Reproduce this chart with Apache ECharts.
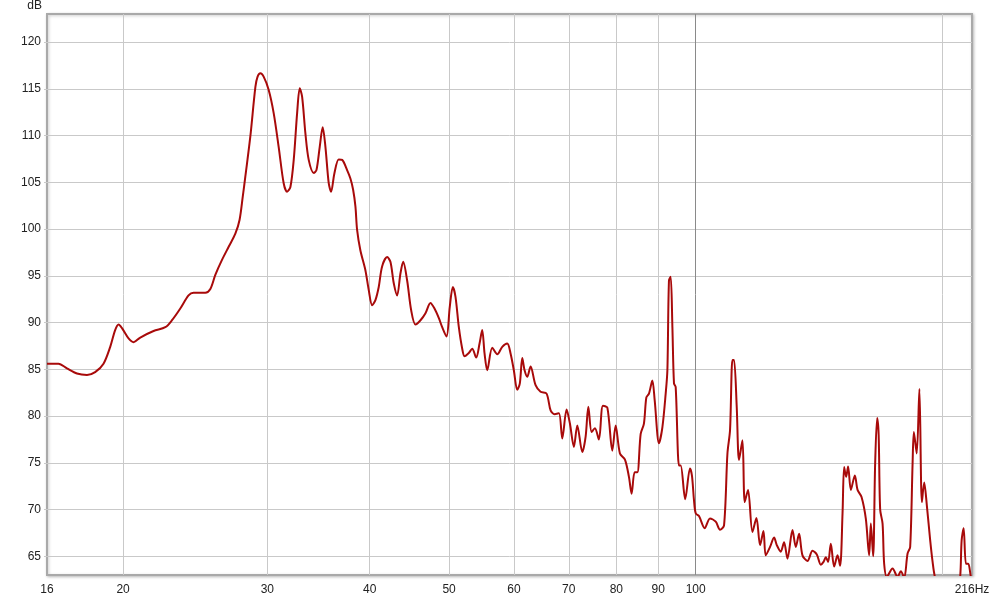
<!DOCTYPE html>
<html>
<head>
<meta charset="utf-8">
<script src="https://cdn.jsdelivr.net/npm/echarts@6/dist/echarts.min.js"></script>
<style>
  html, body { margin: 0; padding: 0; background: #ffffff; }
  #chart { width: 993px; height: 596px; }
</style>
</head>
<body>
<div id="chart"></div>
<script>
// Frequency axis range (Hz) and tick labels
const freqMin = 16.15;
const freqMax = 217.4;
const freqGridHz = [20, 30, 40, 50, 60, 70, 80, 90, 100, 200];
const freqLabelHz = [16.15, 20, 30, 40, 50, 60, 70, 80, 90, 100, 217.4];
const dbMin = 63;
const dbMax = 123;
const dbTicks = [65, 70, 75, 80, 85, 90, 95, 100, 105, 110, 115, 120];

// Measured response: frequency (Hz) and level (dB)
const freqHz = [
  16.15, 16.68, 17.08, 17.57, 18.07, 18.49, 18.93, 19.29, 19.56, 19.75,
  19.94, 20.31, 20.60, 20.99, 21.79, 22.52, 22.95, 23.49, 24.04, 24.38,
  25.20, 25.56, 25.92, 26.41, 26.91, 27.42, 27.75, 28.00, 28.20, 28.60,
  29.01, 29.19, 29.42, 29.69, 30.11, 30.54, 30.97, 31.41, 31.71, 32.01,
  32.31, 32.62, 32.86, 33.08, 33.39, 33.70, 34.18, 34.44, 34.76, 35.05,
  35.32, 35.65, 35.89, 36.22, 36.66, 37.02, 37.54, 37.89, 38.18, 38.43,
  38.61, 38.97, 39.52, 39.89, 40.28, 40.65, 41.03, 41.42, 42.01, 42.40,
  42.80, 43.21, 43.61, 43.95, 44.44, 44.95, 45.49, 46.14, 46.79, 47.45,
  47.99, 48.57, 49.04, 49.64, 50.10, 50.53, 50.91, 51.39, 51.88, 52.22,
  52.85, 53.36, 53.96, 54.47, 54.88, 55.24, 55.66, 56.45, 57.25, 58.06,
  58.88, 59.43, 59.98, 60.56, 61.00, 61.42, 61.82, 62.29, 62.87, 63.76,
  64.66, 65.76, 66.51, 67.26, 68.08, 68.73, 69.57, 70.22, 71.01, 71.69,
  72.71, 73.39, 73.95, 74.64, 75.33, 76.18, 77.05, 78.01, 79.11, 79.85,
  80.82, 81.97, 82.89, 83.52, 84.23, 84.87, 85.67, 86.46, 87.05, 87.69,
  88.53, 89.11, 90.19, 91.06, 91.91, 92.35, 92.76, 93.21, 93.66, 94.08,
  94.53, 95.41, 95.87, 97.09, 98.41, 98.96, 99.52, 100.0, 100.93, 102.56,
  104.10, 105.79, 107.07, 108.29, 109.33, 110.13, 110.88, 111.37, 112.22, 112.95,
  114.04, 114.78, 115.85, 117.29, 118.62, 119.83, 120.98, 121.76, 123.24, 124.64,
  125.59, 127.01, 128.19, 129.43, 131.26, 132.48, 133.72, 135.00, 136.92, 138.86,
  140.55, 142.14, 143.22, 144.15, 145.09, 146.19, 147.56, 148.97, 150.06, 151.09,
  151.77, 152.62, 153.48, 154.66, 156.40, 157.60, 159.38, 161.32, 162.82, 163.60,
  164.66, 165.59, 166.52, 167.23, 167.94, 169.08, 169.84, 171.13, 173.90, 176.36,
  178.00, 179.67, 181.39, 182.72, 183.96, 184.63, 186.10, 187.52, 188.84, 190.07,
  191.51, 193.30, 194.61, 195.88, 199.20, 207.80, 210.15, 211.16, 212.35, 213.73,
  215.12, 216.75, 217.67
];
const levelDb = [
  85.6, 85.6, 85.1, 84.55, 84.4, 84.7, 85.6, 87.4, 89.2, 89.8,
  89.4, 88.3, 87.9, 88.4, 89.1, 89.5, 90.25, 91.5, 92.9, 93.2,
  93.2, 93.6, 95.1, 96.7, 98.1, 99.5, 101.0, 103.5, 105.6, 109.9,
  115.2, 116.3, 116.65, 116.3, 114.9, 112.4, 108.8, 104.9, 104.0, 104.5,
  107.4, 112.4, 115.05, 114.15, 110.2, 107.4, 106.0, 106.3, 108.8, 110.9,
  108.8, 104.9, 104.0, 105.95, 107.45, 107.4, 106.3, 105.4, 104.2, 102.4,
  99.9, 97.7, 95.6, 93.5, 91.85, 92.4, 93.8, 96.0, 97.0, 96.5,
  94.2, 92.9, 95.25, 96.5, 94.5, 91.3, 89.8, 90.25, 91.0, 92.1,
  91.5, 90.5, 89.5, 88.5, 91.7, 93.8, 92.75, 89.5, 87.2, 86.4,
  86.75, 87.2, 86.25, 87.75, 89.2, 86.7, 84.9, 87.3, 86.6, 87.4,
  87.75, 86.7, 84.9, 82.8, 83.5, 86.2, 84.9, 84.2, 85.3, 83.3,
  82.6, 82.4, 80.6, 80.2, 80.3, 77.6, 80.7, 79.2, 76.7, 79.0,
  76.15, 77.8, 81.0, 78.3, 78.7, 77.5, 81.1, 80.9, 76.3, 79.0,
  76.0, 75.35, 73.5, 71.7, 74.0, 74.0, 78.1, 79.2, 82.0, 82.4,
  83.8, 81.7, 77.1, 78.8, 82.4, 84.9, 94.5, 94.9, 89.5, 83.5,
  83.1, 74.7, 74.7, 71.1, 74.4, 73.6, 71.0, 69.6, 69.3, 68.0,
  69.05, 68.7, 67.85, 68.3, 76.0, 78.5, 86.0, 86.0, 81.0, 75.3,
  77.4, 70.8, 72.1, 67.6, 69.1, 66.2, 67.7, 65.1, 66.0, 67.0,
  66.2, 65.5, 66.5, 64.75, 67.8, 66.0, 67.4, 65.1, 64.5, 65.6,
  65.2, 64.1, 64.4, 64.9, 64.4, 66.35, 63.9, 65.1, 64.0, 69.6,
  74.55, 73.5, 74.6, 72.1, 73.65, 72.1, 71.35, 69.0, 65.1, 68.5,
  65.0, 74.9, 79.8, 78.0, 70.0, 68.5, 64.2, 62.8, 63.7, 62.8,
  63.4, 62.7, 65.3, 66.0, 74.9, 78.3, 76.0, 82.9, 70.8, 72.9,
  70.4, 66.7, 64.4, 62.8, 61.0, 61.0, 62.5, 66.7, 68.0, 64.2,
  64.2, 62.8, 62.5
];

const lg = v => Math.log10(v);
const seriesData = freqHz.map((f, i) => [lg(f), levelDb[i]]);
const gridColors = freqGridHz.map(f => f === 100 ? '#8a8a8a' : '#c9c9c9');

const textFont = { fontFamily: 'Liberation Sans, Arial, sans-serif', fontSize: 12, color: '#222' };

const chart = echarts.init(document.getElementById('chart'), null, { renderer: 'canvas' });
chart.setOption({
  animation: false,
  backgroundColor: '#ffffff',
  grid: {
    left: 47, top: 14, right: 21, bottom: 21,
    show: true,
    backgroundColor: '#ffffff',
    borderColor: '#a9a9a9',
    borderWidth: 2,
    shadowColor: 'rgba(0,0,0,0.22)',
    shadowBlur: 3,
    shadowOffsetX: 1,
    shadowOffsetY: 1
  },
  xAxis: {
    type: 'value',
    min: lg(freqMin),
    max: lg(freqMax),
    axisLine: { show: false },
    axisTick: { show: false, customValues: freqGridHz.map(lg) },
    splitLine: { show: true, lineStyle: { color: gridColors, width: 1 } },
    axisLabel: {
      customValues: freqLabelHz.map(lg),
      margin: 9,
      ...textFont,
      formatter: v => {
        const f = Math.pow(10, v);
        if (f > 210) return '216Hz';
        return String(Math.round(f));
      }
    }
  },
  yAxis: {
    type: 'value',
    min: dbMin,
    max: dbMax,
    name: 'dB',
    nameLocation: 'end',
    nameGap: 2,
    nameTextStyle: { ...textFont, align: 'right', padding: [0, 5, 0, 0] },
    axisLine: { show: false },
    axisTick: { show: true, length: 3, customValues: dbTicks, lineStyle: { color: '#c9c9c9' } },
    splitLine: { show: true, lineStyle: { color: '#c9c9c9', width: 1 } },
    axisLabel: { customValues: dbTicks, margin: 6, ...textFont }
  },
  series: [{
    type: 'line',
    data: seriesData,
    showSymbol: false,
    smooth: 0.3,
    clip: true,
    lineStyle: { color: '#a80a0a', width: 2 },
    itemStyle: { color: '#a80a0a' }
  }]
});
</script>
</body>
</html>
